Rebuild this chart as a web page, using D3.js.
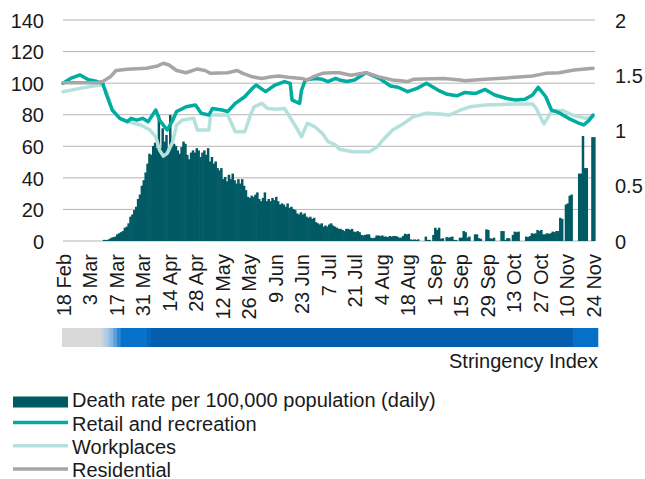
<!DOCTYPE html>
<html>
<head>
<meta charset="utf-8">
<script src="https://cdn.jsdelivr.net/npm/d3@7"></script>
<style>
  body { margin: 0; background: #fff; }
  svg text { font-family: "Liberation Sans", Arial, sans-serif; fill: #1a1a1a; }
</style>
</head>
<body>
<script>
// daily death rate per 100,000 (right axis), one value per day from 18 Feb
const deathStart = "2020-02-18";
const deathRate = [
  0, 0, 0, 0, 0, 0, 0, 0, 0, 0,
  0, 0, 0, 0, 0, 0, 0, 0, 0, 0,
  0, .01, .01, .01, .02, .03, .035, .04, .06, .07,
  .08, .09, .12, .13, .16, .22, .24, .28, .31, .38,
  .42, .5, .55, .62, .7, .79, .78, .86, .89, .84,
  1.14, .84, 1.02, .9, .96, .82, 1.14, .9, .88, .86,
  .82, .79, .85, .9, .88, .78, .74, .8, .82, .8,
  .84, .82, .76, .8, .82, .78, .84, .72, .76, .7,
  .72, .66, .64, .66, .56, .58, .54, .6, .56, .61,
  .55, .52, .56, .52, .56, .5, .46, .4, .39, .41,
  .4, .42, .44, .38, .36, .39, .44, .36, .38, .36,
  .39, .37, .4, .36, .33, .34, .33, .31, .34, .3,
  .31, .29, .28, .25, .24, .26, .24, .25, .22, .21,
  .22, .2, .21, .17, .16, .15, .16, .13, .14, .13,
  .15, .16, .14, .13, .12, .11, .11, .1, .09, .11,
  .11, .1, .11, .085, .08, .09, .08, .055, .05, .055,
  .06, .06, .03, .025, .03, .05, .05, .045, .05, .04,
  .04, .035, .045, .04, .045, .045, .04, .03, .03, .045,
  .065, .06, .065, .015, .01, .015, .01, .015, 0, 0,
  0, .04, .01, .01, 0, .055, .12, .1, .12, .02,
  .025, 0, .035, .03, .035, .04, .01, .01, 0, .03,
  .03, .09, .08, .03, .04, 0, 0, .06, .06, .025,
  .02, 0, 0, .105, .1, .025, .02, .03, 0, 0,
  0, .09, .09, .01, .025, .025, 0, .055, .085, .08,
  .085, 0, 0, 0, .04, .035, .045, .07, .065, .07,
  .1, .09, .1, .06, .06, .07, .065, .07, .085, .08,
  .09, .09, .21, .2, 0, .33, .34, .41, .42, 0,
  0, 0, .61, .61, .95, .66, .66, 0, 0, .94,
  .94
];

// mobility (left axis)
const retail = [
  ["2020-02-18", 99.9], ["2020-02-22", 103], ["2020-02-27", 105.2], ["2020-03-02", 102.4],
  ["2020-03-07", 101], ["2020-03-10", 99.9], ["2020-03-12", 92.5], ["2020-03-15", 83],
  ["2020-03-19", 77.7], ["2020-03-23", 75.6], ["2020-03-25", 77.7], ["2020-03-28", 76.6],
  ["2020-03-31", 77.7], ["2020-04-03", 75.6], ["2020-04-07", 83], ["2020-04-09", 76.6],
  ["2020-04-13", 70.3], ["2020-04-16", 76.6], ["2020-04-18", 82], ["2020-04-23", 85],
  ["2020-04-28", 86.2], ["2020-05-01", 80.9], ["2020-05-05", 79.8], ["2020-05-07", 84],
  ["2020-05-12", 83], ["2020-05-15", 82], ["2020-05-19", 87.2], ["2020-05-24", 91.4],
  ["2020-05-28", 96.7], ["2020-05-30", 98.8], ["2020-06-04", 94.6], ["2020-06-09", 98.8],
  ["2020-06-14", 101], ["2020-06-17", 99.9], ["2020-06-18", 89.3], ["2020-06-22", 87.2],
  ["2020-06-23", 95.6], ["2020-06-25", 102], ["2020-06-30", 103], ["2020-07-04", 102.4],
  ["2020-07-07", 101], ["2020-07-11", 103], ["2020-07-13", 102], ["2020-07-17", 101],
  ["2020-07-21", 102], ["2020-07-27", 106.6], ["2020-08-03", 103], ["2020-08-09", 98.2],
  ["2020-08-13", 97.4], ["2020-08-18", 94.6], ["2020-08-23", 96.7], ["2020-08-28", 99.9],
  ["2020-09-03", 95.6], ["2020-09-08", 92.9], ["2020-09-13", 92], ["2020-09-17", 94],
  ["2020-09-23", 93.5], ["2020-09-28", 96], ["2020-10-03", 92.5], ["2020-10-09", 90.4],
  ["2020-10-14", 89.3], ["2020-10-19", 89.8], ["2020-10-23", 92.5], ["2020-10-26", 97.4],
  ["2020-10-30", 91.4], ["2020-11-02", 83], ["2020-11-06", 81.3], ["2020-11-11", 77.7],
  ["2020-11-16", 74.9], ["2020-11-19", 73.5], ["2020-11-22", 76.6], ["2020-11-24", 79.8]
];

const workplaces = [
  ["2020-02-18", 94.6], ["2020-02-27", 96.7], ["2020-03-05", 98.2], ["2020-03-10", 98.8],
  ["2020-03-12", 94.6], ["2020-03-15", 83], ["2020-03-19", 77.7], ["2020-03-23", 75.6],
  ["2020-03-30", 73.5], ["2020-04-04", 70.3], ["2020-04-07", 66], ["2020-04-09", 57.6],
  ["2020-04-11", 53.8], ["2020-04-13", 55.5], ["2020-04-16", 62.9], ["2020-04-18", 73.5],
  ["2020-04-21", 76.6], ["2020-04-27", 77.7], ["2020-04-29", 70.3], ["2020-05-05", 70.3],
  ["2020-05-06", 79.8], ["2020-05-15", 79.8], ["2020-05-19", 69.2], ["2020-05-24", 69.2],
  ["2020-05-27", 79.8], ["2020-05-29", 85], ["2020-06-02", 87.2], ["2020-06-05", 84],
  ["2020-06-10", 83.4], ["2020-06-14", 84], ["2020-06-20", 72.4], ["2020-06-23", 66],
  ["2020-06-26", 74.5], ["2020-06-30", 72.4], ["2020-07-04", 68.2], ["2020-07-07", 62.9],
  ["2020-07-11", 60.8], ["2020-07-13", 58.1], ["2020-07-20", 56.6], ["2020-07-29", 56.6],
  ["2020-08-02", 59.7], ["2020-08-05", 64], ["2020-08-10", 70.3], ["2020-08-16", 74.5],
  ["2020-08-21", 78.7], ["2020-08-28", 80.9], ["2020-09-04", 80.4], ["2020-09-09", 79.8],
  ["2020-09-15", 83], ["2020-09-20", 85], ["2020-09-28", 86.2], ["2020-10-14", 86.8],
  ["2020-10-23", 86.8], ["2020-10-25", 84], ["2020-10-29", 74.1], ["2020-11-02", 82],
  ["2020-11-08", 82.6], ["2020-11-13", 79.8], ["2020-11-20", 77.7], ["2020-11-24", 78.7]
];

const residential = [
  ["2020-02-18", 100.3], ["2020-03-07", 100.3], ["2020-03-10", 101], ["2020-03-14", 104],
  ["2020-03-17", 108], ["2020-03-23", 108.8], ["2020-04-02", 109.4], ["2020-04-08", 110.9],
  ["2020-04-11", 112.6], ["2020-04-14", 111.5], ["2020-04-18", 108], ["2020-04-23", 106.6],
  ["2020-04-29", 109], ["2020-05-03", 108], ["2020-05-06", 106.2], ["2020-05-15", 106.6],
  ["2020-05-20", 108], ["2020-05-23", 106.2], ["2020-05-28", 104], ["2020-06-02", 103],
  ["2020-06-07", 104], ["2020-06-11", 104.5], ["2020-06-16", 103.7], ["2020-06-23", 103],
  ["2020-06-26", 102], ["2020-06-30", 104.5], ["2020-07-04", 106.2], ["2020-07-09", 106.6],
  ["2020-07-13", 106.6], ["2020-07-19", 105], ["2020-07-27", 106.6], ["2020-08-03", 104],
  ["2020-08-10", 102], ["2020-08-18", 101], ["2020-08-21", 102.4], ["2020-09-06", 103],
  ["2020-09-15", 102], ["2020-09-17", 101.5], ["2020-09-28", 102.4], ["2020-10-14", 103.7],
  ["2020-10-23", 104.5], ["2020-10-30", 106.2], ["2020-11-06", 106.6], ["2020-11-14", 108.3],
  ["2020-11-24", 109.4]
];

// stringency index, value from each date until the next one
const stringencyDates = ["2020-02-18", "2020-03-09", "2020-03-10", "2020-03-11", "2020-03-12",
  "2020-03-13", "2020-03-14", "2020-03-16", "2020-03-18", "2020-03-20", "2020-04-02",
  "2020-04-05", "2020-11-14"];
const stringencyValues = [8, 14, 20, 28, 36, 42, 48, 55, 62, 68, 74, 80, 70];

const leftTicks = [0, 20, 40, 60, 80, 100, 120, 140];
const rightTicks = [0, 0.5, 1, 1.5, 2];

const parse = d3.timeParse("%Y-%m-%d");
const W = 645, H = 479;
const FONT = 20;

const svg = d3.select("body").append("svg")
  .attr("width", W)
  .attr("height", H);

const x = d3.scaleTime()
  .domain([parse("2020-02-18"), parse("2020-11-25")])
  .range([63, 595]);
const yL = d3.scaleLinear().domain([0, 140]).range([241, 20]);
const yR = d3.scaleLinear().domain([0, 2]).range([241, 20]);

// gridlines
svg.append("g").selectAll("line")
  .data(leftTicks)
  .join("line")
  .attr("x1", 63).attr("x2", 595)
  .attr("y1", d => yL(d)).attr("y2", d => yL(d))
  .attr("stroke", "#b5b5b5")
  .attr("stroke-width", 1);

// bars
const day0 = parse(deathStart);
const bars = deathRate.map((v, i) => ({ date: d3.timeDay.offset(day0, i), value: v }));
svg.append("g").selectAll("rect")
  .data(bars.filter(d => d.value > 0))
  .join("rect")
  .attr("x", d => x(d.date))
  .attr("width", d => x(d3.timeDay.offset(d.date, 1)) - x(d.date) + 0.6)
  .attr("y", d => yR(d.value))
  .attr("height", d => yR(0) - yR(d.value))
  .attr("fill", "#005a64");

// lines
const line = d3.line()
  .x(d => x(parse(d[0])))
  .y(d => yL(d[1]));

const series = [
  { name: "Workplaces", data: workplaces, color: "#b4e1db" },
  { name: "Retail and recreation", data: retail, color: "#00ab9f" },
  { name: "Residential", data: residential, color: "#a6a6a6" }
];
series.forEach(s => {
  svg.append("path")
    .datum(s.data)
    .attr("d", line)
    .attr("fill", "none")
    .attr("stroke", s.color)
    .attr("stroke-width", 3.5)
    .attr("stroke-linejoin", "round")
    .attr("stroke-linecap", "round");
});

// left axis
const gL = svg.append("g")
  .attr("transform", "translate(44,0)")
  .call(d3.axisLeft(yL).tickValues(leftTicks).tickSize(0).tickPadding(0));
gL.select(".domain").remove();
gL.selectAll("text").attr("font-size", FONT).attr("font-family", null).attr("dy", "0.36em");

// right axis
const gR = svg.append("g")
  .attr("transform", "translate(615,0)")
  .call(d3.axisRight(yR).tickValues(rightTicks).tickFormat(d => String(d)).tickSize(0).tickPadding(0));
gR.select(".domain").remove();
gR.selectAll("text").attr("font-size", FONT).attr("font-family", null).attr("dy", "0.36em");

// x axis, rotated labels every 14 days
const tickDates = d3.timeDay.range(parse("2020-02-18"), parse("2020-11-25"), 14);
const gX = svg.append("g")
  .attr("transform", "translate(0,254)")
  .call(d3.axisBottom(x).tickValues(tickDates).tickFormat(d3.timeFormat("%-d %b")).tickSize(0));
gX.select(".domain").remove();
gX.selectAll("text")
  .attr("font-size", FONT)
  .attr("font-family", null)
  .attr("text-anchor", "end")
  .attr("transform", "rotate(-90)")
  .attr("x", 0)
  .attr("y", 0)
  .attr("dy", "0.36em");

// stringency strip
const stringencyColor = d3.scaleLinear()
  .domain([0, 12, 45, 68, 80])
  .range(["#d9d9d9", "#d9d9d9", "#9cc3e8", "#0672cc", "#045ead"]);
const strip = stringencyDates.map((d, i) => ({ date: parse(d), value: stringencyValues[i] }));
const stripEnd = parse("2020-11-27");
svg.append("g").selectAll("rect")
  .data(strip)
  .join("rect")
  .attr("x", d => x(d.date) - 1)
  .attr("width", (d, i) => x(i < strip.length - 1 ? strip[i + 1].date : stripEnd) - x(d.date) + 0.5)
  .attr("y", 328)
  .attr("height", 19)
  .attr("fill", d => stringencyColor(d.value));

svg.append("text")
  .attr("x", 598)
  .attr("y", 368)
  .attr("text-anchor", "end")
  .attr("font-size", FONT)
  .text("Stringency Index");

// legend
const legend = svg.append("g");
legend.append("rect")
  .attr("x", 13).attr("y", 396.5)
  .attr("width", 55).attr("height", 11)
  .attr("fill", "#005a64");
legend.append("text")
  .attr("x", 72).attr("y", 407)
  .attr("font-size", FONT)
  .text("Death rate per 100,000 population (daily)");

const legendLines = [series[1], series[0], series[2]];
legend.selectAll("line")
  .data(legendLines)
  .join("line")
  .attr("x1", 13).attr("x2", 68)
  .attr("y1", (d, i) => 422.5 + i * 23.3)
  .attr("y2", (d, i) => 422.5 + i * 23.3)
  .attr("stroke", d => d.color)
  .attr("stroke-width", 3.5);
legend.selectAll("text.l")
  .data(legendLines)
  .join("text")
  .attr("class", "l")
  .attr("x", 72)
  .attr("y", (d, i) => 430.5 + i * 23)
  .attr("font-size", FONT)
  .text(d => d.name);
</script>
</body>
</html>
